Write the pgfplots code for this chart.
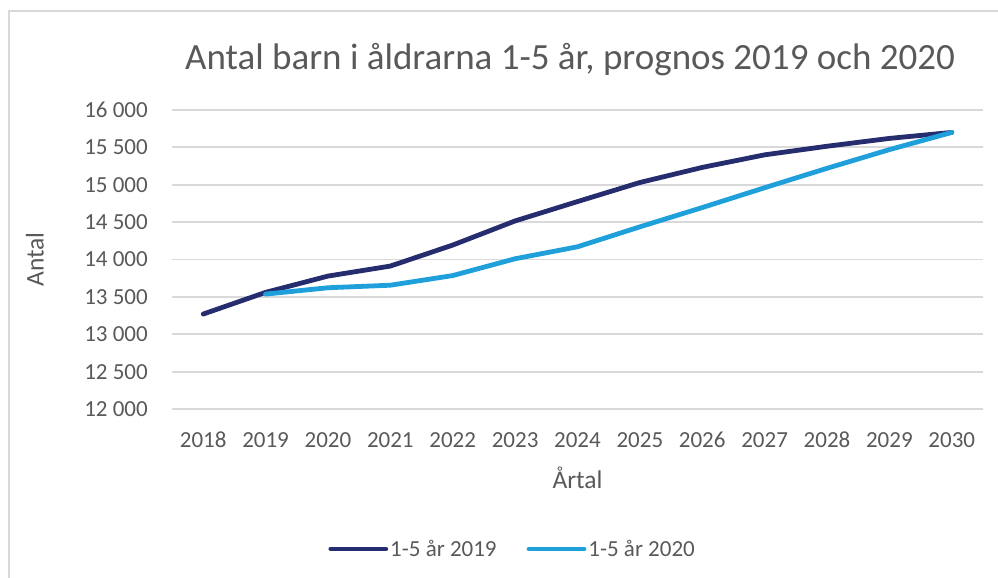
\documentclass[border=0pt]{standalone}
\usepackage{fontspec}
\setmainfont{Carlito}
\usepackage{pgfplots}
\pgfplotsset{compat=1.18}

\definecolor{darkline}{HTML}{252D6E}
\definecolor{lightline}{HTML}{1FA0DB}
\definecolor{gridgray}{HTML}{D9D9D9}
\definecolor{framegray}{HTML}{D9D9D9}
\definecolor{textgray}{HTML}{595959}

\begin{document}
\begin{tikzpicture}[x=1bp,y=1bp]
  \path[use as bounding box] (0,0) rectangle (998,578);
  % chart frame, cut off at right and bottom
  \draw[framegray, line width=1.5bp] (9,-10) -- (9,567) -- (1010,567);

  \begin{axis}[
      at={(172bp,169bp)}, anchor=south west,
      width=811bp, height=299bp, scale only axis,
      xmin=2017.5, xmax=2030.5,
      ymin=12000, ymax=16000,
      xtick={2018,2019,...,2030},
      ytick={12000,12500,...,16000},
      scaled y ticks=false,
      axis line style={draw=none},
      tick style={draw=none},
      ymajorgrids,
      grid style={gridgray, line width=1.8bp},
      /pgf/number format/assume math mode=true,
      every tick label/.append style={font=\fontsize{23bp}{27bp}\selectfont, text=textgray, inner sep=0pt},
      xticklabel style={/pgf/number format/set thousands separator={}, yshift=-23bp},
      yticklabel style={/pgf/number format/fixed, /pgf/number format/set thousands separator={\ }, xshift=-24bp},
      title={Antal barn i åldrarna 1-5 år, prognos 2019 och 2020},
      title style={at={(axis description cs:0.4908,1.15)}, anchor=center,
                   font=\fontsize{37bp}{42bp}\selectfont, text=textgray},
      xlabel={Årtal},
      ylabel={Antal},
      xlabel style={at={(axis description cs:0.5,-0.231)}, anchor=center,
                    font=\fontsize{25.5bp}{30bp}\selectfont, text=textgray},
      ylabel style={at={(axis description cs:-0.169,0.5)}, anchor=center,
                    font=\fontsize{25.5bp}{30bp}\selectfont, text=textgray},
      legend columns=2,
      legend style={at={(axis description cs:0.42,-0.468)}, anchor=center,
                    draw=none, fill=none,
                    font=\fontsize{23bp}{27bp}\selectfont, text=textgray,
                    nodes={inner sep=2bp},
                    /tikz/every even column/.append style={column sep=28bp}},
      legend image code/.code={\draw[#1] (0bp,0bp) -- (55bp,0bp);},
      every axis plot/.append style={line width=4.8bp, line join=round, line cap=round},
    ]
    \addplot[darkline] coordinates {
      (2018,13270) (2019,13560) (2020,13778) (2021,13912) (2022,14193)
      (2023,14516) (2024,14775) (2025,15030) (2026,15232) (2027,15400)
      (2028,15515) (2029,15620) (2030,15700)
    };
    \addlegendentry{1-5 år 2019}
    \addplot[lightline] coordinates {
      (2019,13537) (2020,13622) (2021,13656) (2022,13785) (2023,14010)
      (2024,14170) (2025,14437) (2026,14695) (2027,14960) (2028,15220)
      (2029,15470) (2030,15700)
    };
    \addlegendentry{1-5 år 2020}
  \end{axis}
\end{tikzpicture}
\end{document}
